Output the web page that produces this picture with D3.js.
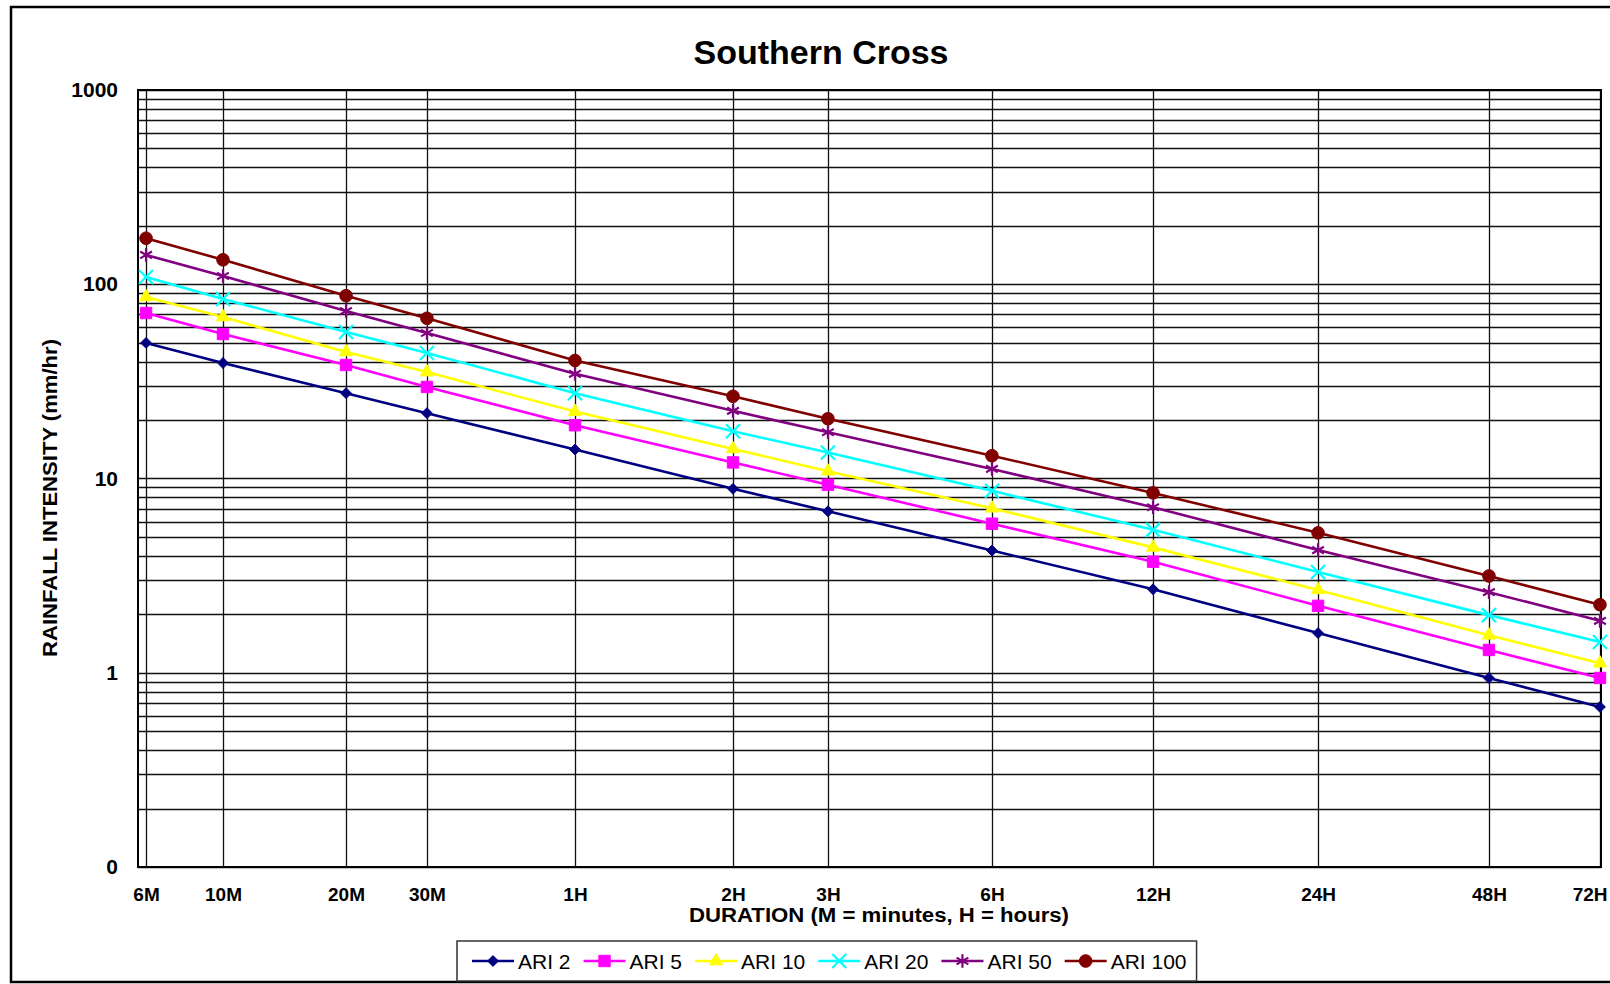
<!DOCTYPE html>
<html>
<head>
<meta charset="utf-8">
<script src="https://cdn.jsdelivr.net/npm/d3@7"></script>
<style>
  html, body { margin: 0; padding: 0; background: #fff; }
  svg { display: block; font-family: Arial, "Liberation Sans", sans-serif; }
</style>
</head>
<body>
<script>
// durations along the bottom
const durationLabels = ["6M", "10M", "20M", "30M", "1H", "2H", "3H", "6H", "12H", "24H", "48H", "72H"];
const durationMinutes = [6, 10, 20, 30, 60, 120, 180, 360, 720, 1440, 2880, 4320];

// rainfall intensity (mm/hr) per ARI
const ari2   = [49.9, 39.3, 27.5, 21.7, 14.1, 8.85, 6.78, 4.26, 2.69, 1.60, 0.94, 0.667];
const ari5   = [71.1, 55.4, 38.4, 29.6, 18.8, 12.1, 9.29, 5.85, 3.73, 2.21, 1.31, 0.94];
const ari10  = [86.0, 67.8, 44.8, 35.3, 22.1, 14.2, 10.9, 7.03, 4.42, 2.67, 1.56, 1.12];
const ari20  = [109, 84.0, 56.8, 44.3, 27.5, 17.5, 13.6, 8.64, 5.44, 3.30, 1.98, 1.44];
const ari50  = [141.5, 110.3, 72.8, 56.1, 34.6, 22.3, 17.3, 11.2, 7.11, 4.28, 2.60, 1.85];
const ari100 = [172.6, 133.6, 87.3, 66.8, 40.5, 26.5, 20.3, 13.1, 8.43, 5.25, 3.15, 2.24];

const seriesNames = ["ARI 2", "ARI 5", "ARI 10", "ARI 20", "ARI 50", "ARI 100"];
const seriesValues = [ari2, ari5, ari10, ari20, ari50, ari100];

const yTickValues = [0.1, 1, 10, 100, 1000];

// styles
const colors = ["#000080", "#ff00ff", "#ffff00", "#00ffff", "#800080", "#800000"];
const symbols = [d3.symbolDiamond2 || d3.symbolDiamond, d3.symbolSquare, d3.symbolTriangle,
                 d3.symbolX, d3.symbolAsterisk, d3.symbolCircle];
const symbolSize = [75, 130, 75, 130, 130, 125];
const strokeSymbol = [false, false, false, true, true, false];

const width = 1610, height = 984;
const plot = { left: 138, top: 90, right: 1601, bottom: 867 };
const plotW = plot.right - plot.left;

// the duration axis of this chart is stretched (not a plain log scale),
// so the scale is piecewise log between the gridline stops (fraction of plot width)
const durationAxisStops = [0.0055, 0.0581, 0.1422, 0.1975, 0.2987, 0.4067,
                           0.4716, 0.5837, 0.6938, 0.8066, 0.9234, 0.9993];

const x = d3.scaleLog()
  .domain(durationMinutes)
  .range(durationAxisStops.map(f => plot.left + f * plotW));

const y = d3.scaleLog()
  .domain([0.1, 1000])
  .range([plot.bottom, plot.top]);

const svg = d3.select("body").append("svg")
  .attr("width", width)
  .attr("height", height);

svg.append("rect")
  .attr("width", width).attr("height", height)
  .attr("fill", "#fff");

// outer chart border (runs off the right side)
svg.append("rect")
  .attr("x", 11).attr("y", 7)
  .attr("width", width + 20).attr("height", 975)
  .attr("fill", "none")
  .attr("stroke", "#000")
  .attr("stroke-width", 2.5);

// title
svg.append("text")
  .attr("x", 821).attr("y", 64)
  .attr("text-anchor", "middle")
  .attr("font-size", 34)
  .attr("font-weight", "bold")
  .text("Southern Cross");

// horizontal grid on every log minor tick
svg.append("g")
  .selectAll("line")
  .data(y.ticks())
  .join("line")
  .attr("x1", plot.left).attr("x2", plot.right)
  .attr("y1", d => Math.round(y(d)) + 0.5)
  .attr("y2", d => Math.round(y(d)) + 0.5)
  .attr("stroke", "#111")
  .attr("stroke-width", 1.3);

// vertical grid at each duration
svg.append("g")
  .selectAll("line")
  .data(durationMinutes)
  .join("line")
  .attr("x1", d => Math.round(x(d)) + 0.5)
  .attr("x2", d => Math.round(x(d)) + 0.5)
  .attr("y1", plot.top).attr("y2", plot.bottom)
  .attr("stroke", "#111")
  .attr("stroke-width", 1.3);

// plot frame
svg.append("rect")
  .attr("x", plot.left).attr("y", plot.top)
  .attr("width", plotW).attr("height", plot.bottom - plot.top)
  .attr("fill", "none")
  .attr("stroke", "#000")
  .attr("stroke-width", 2);

// y axis labels
const yAxis = svg.append("g")
  .attr("transform", `translate(${plot.left},0)`)
  .call(d3.axisLeft(y)
    .tickValues(yTickValues)
    .tickFormat(d3.format("d"))
    .tickSize(0)
    .tickPadding(20));
yAxis.select(".domain").remove();
yAxis.selectAll("text")
  .attr("font-size", 21)
  .attr("font-weight", "bold")
  .attr("font-family", null)
  .attr("fill", "#000");

// x axis labels
const xAxis = svg.append("g")
  .attr("transform", `translate(0,${plot.bottom})`)
  .call(d3.axisBottom(x)
    .tickValues(durationMinutes)
    .tickFormat((d, i) => durationLabels[i])
    .tickSize(0)
    .tickPadding(21));
xAxis.select(".domain").remove();
xAxis.selectAll("text")
  .attr("font-size", 19)
  .attr("font-weight", "bold")
  .attr("font-family", null)
  .attr("fill", "#000")
  .each(function(d) {
    // keep the last label inside the frame
    const w = this.getComputedTextLength();
    const cx = x(d);
    if (cx + w / 2 > width - 3) d3.select(this).attr("x", width - 3 - w / 2 - cx);
  });

// axis titles
svg.append("text")
  .attr("transform", "translate(57,498) rotate(-90)")
  .attr("text-anchor", "middle")
  .attr("font-size", 20)
  .attr("font-weight", "bold")
  .attr("textLength", 318)
  .attr("lengthAdjust", "spacingAndGlyphs")
  .text("RAINFALL INTENSITY (mm/hr)");

svg.append("text")
  .attr("x", 879).attr("y", 922)
  .attr("text-anchor", "middle")
  .attr("font-size", 20)
  .attr("font-weight", "bold")
  .attr("textLength", 380)
  .attr("lengthAdjust", "spacingAndGlyphs")
  .text("DURATION (M = minutes, H = hours)");

// series
const line = d3.line()
  .x((d, i) => x(durationMinutes[i]))
  .y(d => y(d));

function markerAttrs(sel, k) {
  sel.attr("d", d3.symbol().type(symbols[k]).size(symbolSize[k]))
    .attr("fill", strokeSymbol[k] ? "none" : colors[k])
    .attr("stroke", colors[k])
    .attr("stroke-width", strokeSymbol[k] ? 2.2 : 1);
}

seriesValues.forEach((vals, k) => {
  const g = svg.append("g");
  g.append("path")
    .datum(vals)
    .attr("d", line)
    .attr("fill", "none")
    .attr("stroke", colors[k])
    .attr("stroke-width", 2.6);
  g.selectAll("path.mk")
    .data(vals)
    .join("path")
    .attr("class", "mk")
    .attr("transform", (d, i) => `translate(${x(durationMinutes[i])},${y(d)})`)
    .call(markerAttrs, k);
});

// legend
const legend = svg.append("g");
const legendY = 961;
let lx = 472;
seriesNames.forEach((name, k) => {
  const item = legend.append("g");
  item.append("line")
    .attr("x1", lx).attr("x2", lx + 42)
    .attr("y1", legendY).attr("y2", legendY)
    .attr("stroke", colors[k])
    .attr("stroke-width", 2.6);
  item.append("path")
    .attr("transform", `translate(${lx + 21},${legendY})`)
    .call(markerAttrs, k);
  const t = item.append("text")
    .attr("x", lx + 46).attr("y", legendY + 7.5)
    .attr("font-size", 21)
    .text(name);
  lx += 46 + t.node().getComputedTextLength() + 13;
});
legend.insert("rect", ":first-child")
  .attr("x", 457).attr("y", 941)
  .attr("width", lx - 13 + 10 - 457).attr("height", 40)
  .attr("fill", "#fff")
  .attr("stroke", "#333")
  .attr("stroke-width", 1.5);
</script>
</body>
</html>
